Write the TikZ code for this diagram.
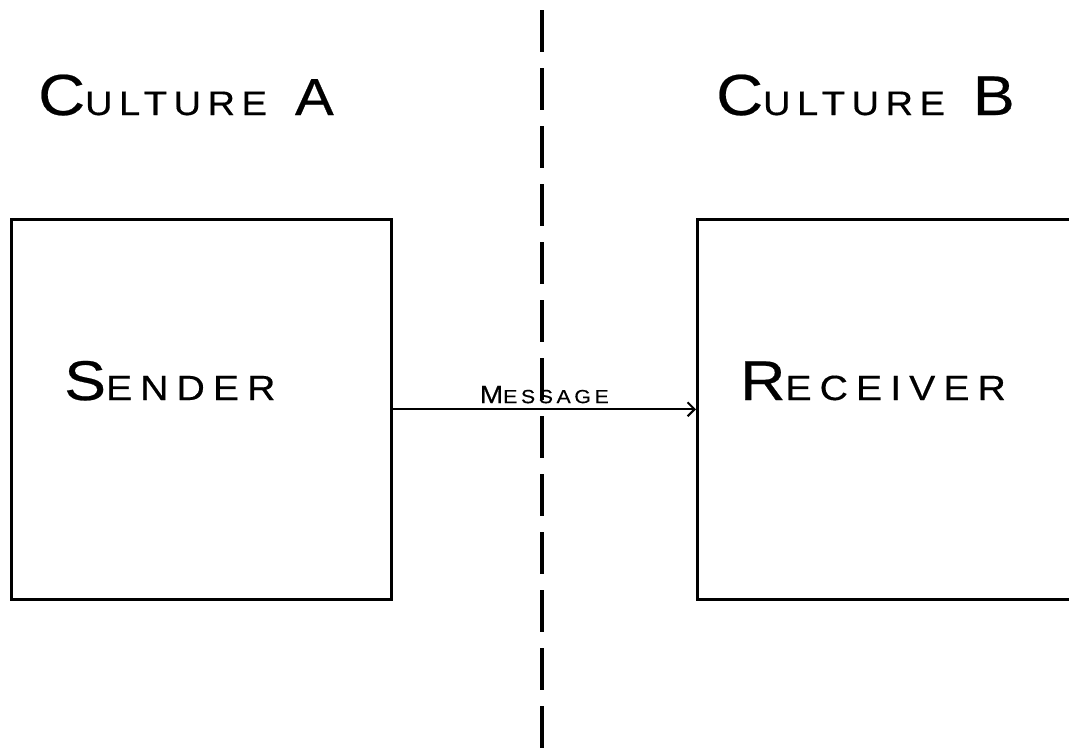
\documentclass[tikz,border=0pt]{standalone}
\usepackage{fontspec}
\setmainfont{Liberation Sans}
\newfontfamily\handfont[LetterSpace=19,FakeStretch=1.12,FakeBold=0.4]{Liberation Sans}
\newfontfamily\handfontw[LetterSpace=23,FakeStretch=1.12,FakeBold=0.4]{Liberation Sans}
\newcommand{\mysc}[4]{{\handfont\fontsize{#3}{#3}\selectfont #1\fontsize{#4}{#4}\selectfont #2}}
\newcommand{\myscw}[4]{{\handfontw\fontsize{#3}{#3}\selectfont #1\fontsize{#4}{#4}\selectfont #2}}
\newcommand{\myletter}[2]{{\handfont\fontsize{#2}{#2}\selectfont #1}}
\usetikzlibrary{arrows.meta}
\tikzset{
  box/.style={draw, line width=2.6pt, minimum height=380pt, anchor=north west, inner sep=0pt},
  lbl/.style={inner sep=0pt, anchor=base west},
  divider/.style={line width=3.2pt, dash pattern=on 42pt off 16pt},
  msgarrow/.style={line width=2pt, -{Straight Barb[length=7pt,width=14pt,line width=2pt]}}
}
\begin{document}
\begin{tikzpicture}[x=1pt,y=-1pt]
\useasboundingbox (0,0) rectangle (1069,748);
\coordinate (dtop) at (542,10);
\coordinate (dbot) at (542,748);
\draw[divider] (dtop) -- (dbot);
\node[box, minimum width=380pt] (sender) at (10,218) {};
\node[box, minimum width=420pt] (receiver) at (696,218) {};
\node[lbl] (cultA) at (38,115) {\mysc{C}{ULTURE}{58}{34}\hspace{28pt}\myletter{A}{52}};
\node[lbl] (cultB) at (716,115) {\mysc{C}{ULTURE}{58}{34}\hspace{28pt}\myletter{B}{56}};
\node[lbl] (sendt) at (64,400) {\myscw{S}{ENDER}{56}{35}};
\node[lbl] (recvt) at (740,400) {\myscw{R}{ECEIVER}{56}{35}};
\draw[msgarrow] (sender.east) -- (receiver.west) node[midway, above=5pt, inner sep=0pt] (msg) {\mysc{M}{ESSAGE}{25}{19}};
\end{tikzpicture}
\end{document}
